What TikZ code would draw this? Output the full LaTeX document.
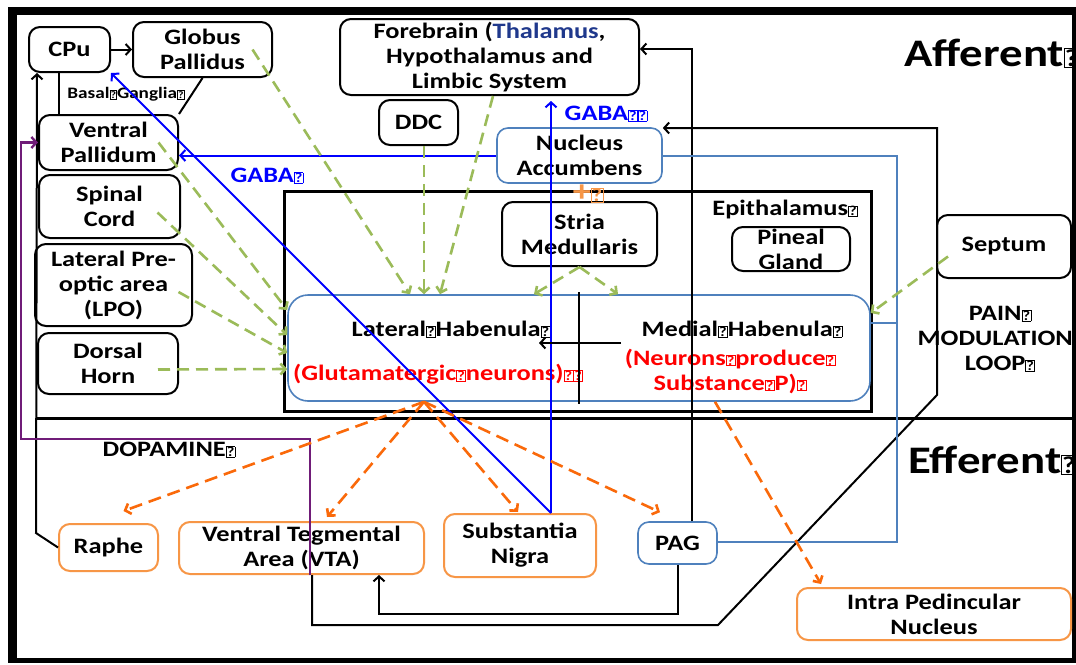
\documentclass[tikz,border=0pt]{standalone}
\usepackage{fontspec}
\setmainfont{Carlito}[FakeStretch=1.2]
\usepackage{graphicx}
\usepackage{xcolor}
\definecolor{leafgreen}{RGB}{155,187,89}
\definecolor{effline}{RGB}{247,150,70}
\definecolor{effarrow}{RGB}{250,105,10}
\definecolor{steel}{RGB}{79,129,189}
\definecolor{dopa}{RGB}{112,28,120}
\definecolor{thal}{RGB}{31,56,140}
\usepackage{tikz}
\usetikzlibrary{
  arrows.meta,
  calc
}
% box drawn in place of a missing glyph
\newcommand{\qb}{{\setlength{\fboxsep}{0.4pt}\setlength{\fboxrule}{0.6pt}\fbox{\scalebox{0.62}{?}}}}

\begin{document}
\begin{tikzpicture}[x=1pt, y=-1pt,
  box/.style={draw=black, line width=2pt, rounded corners=11pt, align=center, inner sep=0pt, font=\fontsize{22}{25}\selectfont\bfseries},
  hbox/.style={box, draw=steel, line width=1.6pt},
  ebox/.style={box, draw=effline},
  txt/.style={font=\fontsize{22}{25}\selectfont\bfseries, align=center, inner sep=0pt},
  big/.style={font=\fontsize{39}{42}\selectfont\bfseries, inner sep=0pt},
  arr/.style={-{Straight Barb[length=5pt,width=11pt]}, line width=2pt},
  link/.style={line width=2pt},
  gaba/.style={arr, blue},
  inp/.style={arr, leafgreen, line width=2.6pt, dash pattern=on 12pt off 7pt},
  outp/.style={arr, effarrow, line width=2.6pt, dash pattern=on 13pt off 7pt}
]
  \clip (0,0) rectangle (1076,664);
  % frame and regions
  \fill[black] (8,7) rectangle (1076,663);
  \fill[white] (17,15) rectangle (1072,658);
  \draw[line width=3pt] (36,418) -- (1073,418);
  \draw[line width=3pt] (284,191) rectangle (871,411);

  % afferent side
  \node[box, minimum width=81pt, minimum height=45pt] (cpu) at (69.5,49.5) {CPu};
  \node[box, minimum width=139pt, minimum height=55pt] (gp) at (202.5,49.5) {Globus\\Pallidus};
  \node[box, minimum width=139pt, minimum height=55pt] (vp) at (108.5,142.5) {Ventral\\Pallidum};
  \node[box, minimum width=141pt, minimum height=63pt] (spinal) at (109.5,206.5) {Spinal\\Cord};
  \node[box, minimum width=157pt, minimum height=82pt] (lpo) at (113.5,285) {Lateral Pre-\\optic area\\(LPO)};
  \node[box, minimum width=140pt, minimum height=61pt] (dorsal) at (108,363.5) {Dorsal\\Horn};
  \node[box, minimum width=299pt, minimum height=76pt] (fore) at (489.5,57) {Forebrain (\textcolor{thal}{Thalamus},\\Hypothalamus and\\Limbic System};
  \node[box, minimum width=79pt, minimum height=45pt] (ddc) at (418.5,122.5) {DDC};
  \node[hbox, minimum width=165pt, minimum height=55pt] (nac) at (579.5,155.5) {Nucleus\\Accumbens};
  \node[box, minimum width=155pt, minimum height=64pt] (stria) at (579.5,234) {Stria\\Medullaris};
  \node[box, minimum width=118pt, minimum height=44pt] (pineal) at (791,249) {Pineal\\Gland};
  \node[hbox, rounded corners=20pt, minimum width=582pt, minimum height=106pt] (hab) at (579,348) {};
  \node[box, minimum width=134pt, minimum height=63pt] (septum) at (1004,246.5) {Septum};

  % efferent side
  \node[ebox, minimum width=99pt, minimum height=47pt] (raphe) at (108.5,547.5) {Raphe};
  \node[ebox, minimum width=245pt, minimum height=52pt] (vta) at (301.5,548) {Ventral Tegmental\\Area (VTA)};
  \node[ebox, minimum width=152pt, minimum height=63pt] (sn) at (520,545.5) {Substantia\\Nigra};
  \node[hbox, minimum width=79pt, minimum height=42pt] (pag) at (677.5,543) {PAG};
  \node[ebox, minimum width=274pt, minimum height=52pt] (ipn) at (934,614) {Intra Pedincular\\Nucleus};

  % labels
  \node[txt] (lhab) at (451,329) {Lateral\qb Habenula\qb};
  \node[txt, red] (glut) at (438,374) {(Glutamatergic\qb neurons)\qb\qb};
  \node[txt] (mhab) at (742,329) {Medial\qb Habenula\qb};
  \node[txt, red] (subp) at (730,371) {(Neurons\qb produce\qb\\Substance\qb P)\qb};
  \node[txt] (epilbl) at (785,210) {Epithalamus\qb};
  \node[big, anchor=west] (aff) at (904,53) {Afferent\qb};
  \node[big, anchor=west] (eff) at (908,460) {Efferent\qb};
  \node[txt] (pain) at (1000,339) {PAIN\qb\\MODULATION\qb\\LOOP\qb};
  \node[txt] (dopalbl) at (169,450) {DOPAMINE\qb};
  \node[txt, font=\fontsize{16}{19}\selectfont\bfseries] (bglbl) at (126,94) {Basal\qb Ganglia\qb};
  \node[txt, blue] (gabavp) at (267,176) {GABA\qb};
  \node[txt, blue] (gabafb) at (606,114) {GABA\qb\qb};
  \node[txt, effline, font=\fontsize{30}{32}\selectfont\bfseries] (plus) at (588,194) {+\qb};

  % basal ganglia
  \draw[arr] (cpu) -- (gp);
  \draw[link] (cpu.south -| 59,0) -- (vp.north -| 59,0);
  \draw[link] (gp.south) -- (vp.north east);
  \draw[arr] (raphe.west) -- (36,533) -- (cpu.south -| 37,0);

  % dopamine and loops back up
  \draw[arr, dopa, line width=2.4pt] (vta.south -| 310,0) -- (310,439) -- (21,439) |- (vp.west);
  \draw[arr] (vta.south -| 312,0) -- (312,625) -- (718,625) -- (937,395) -- (937,128) -- (nac.east |- 0,128);
  \draw[arr] (pag.south) |- (379,614) -- (vta.south -| 379,0);
  \draw[arr] (pag.north -| 692,0) |- (fore.east |- 0,49);
  \draw[link, steel] (nac.east) -| (897,542) -- (pag.east |- 0,542);
  \draw[link, steel] (hab.east |- 0,323) -- (897,323);

  % GABA
  \draw[gaba] (nac.west) -- (vp.east |- nac.west);
  \draw[gaba, shorten >=5pt] (sn.north -| 551,0) -- (fore.south -| 551,0);
  \draw[gaba] (sn.north -| 551,0) -- (cpu.south east);

  % inputs to habenula
  \draw[inp] ($(gp.center)+(50,0)$) -- (hab.north -| 410,0);
  \draw[inp] (ddc.south -| 424,0) -- (hab.north -| 424,0);
  \draw[inp] (fore.south -| 493,0) -- (hab.north -| 440,0);
  \draw[inp] ($(vp.center)+(50,0)$) -- (hab.west |- 0,310);
  \draw[inp] ($(spinal.center)+(48,6)$) -- (hab.west |- 0,335);
  \draw[inp] ($(lpo.center)+(65,7)$) -- (hab.west |- 0,353);
  \draw[inp] ($(dorsal.center)+(50,6)$) -- (hab.west |- 0,369);
  \draw[inp] (stria.south) -- (hab.north -| 534,0);
  \draw[inp] (stria.south) -- (hab.north -| 618,0);
  \draw[inp] ($(septum.center)+(-56,10)$) -- (hab.east |- 0,313);

  % habenula cross
  \draw[link] ($(hab.north -| 579,0)+(0,-2)$) -- ($(hab.south -| 579,0)+(0,2)$);
  \draw[arr] ($(hab.center)+(42,-5)$) -- ($(hab.center)+(-40,-5)$);

  % outputs of habenula
  \draw[outp] (hab.south -| 424,0) -- ($(raphe.north)+(15,-12)$);
  \draw[outp] (hab.south -| 424,0) -- ($(vta.north)+(25.5,-4)$);
  \draw[outp] (hab.south -| 424,0) -- ($(sn.north)+(-2,-1)$);
  \draw[outp] (hab.south -| 424,0) -- ($(pag.north)+(-17.5,-9)$);
  \draw[outp] (hab.south -| 715,0) -- ($(ipn.north)+(-113,-3)$);
\end{tikzpicture}
\end{document}
